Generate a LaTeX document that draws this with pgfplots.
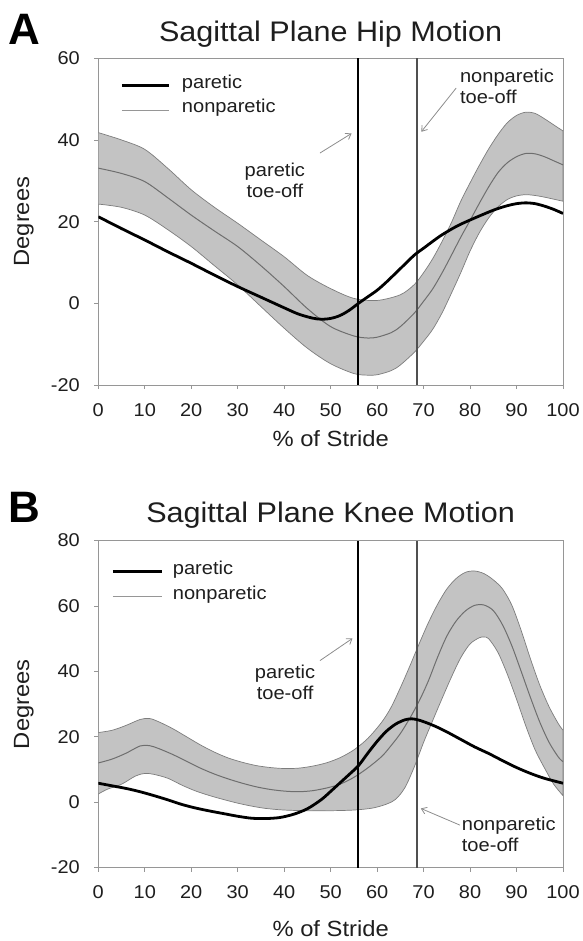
\documentclass[border=0pt]{standalone}
\usepackage{fontspec}
\setmainfont{Liberation Sans}[FakeStretch=1.08]
\newfontfamily\letterfont{Liberation Sans}
\usepackage{pgfplots}
\pgfplotsset{compat=1.18}
\usepackage{pgfplotstable}
\usepgfplotslibrary{fillbetween}
\usetikzlibrary{arrows.meta}

\definecolor{txt}{RGB}{30,30,30}
\definecolor{framec}{RGB}{150,150,150}
\definecolor{band}{RGB}{195,195,195}
\definecolor{bandedge}{RGB}{125,125,125}
\definecolor{meanc}{RGB}{110,110,110}
\definecolor{legnp}{RGB}{150,150,150}
\definecolor{npline}{RGB}{80,80,80}
\definecolor{arrowc}{RGB}{140,140,140}

% ---------- Panel A data ----------
\pgfplotstableread{
x y
0 21.2
5 18.3
10 15.5
15 12.6
20 9.8
25 6.9
30 4.1
35 1.5
40 -1.1
43 -2.6
46 -3.6
48 -3.9
50 -3.7
52 -3.0
54 -1.7
56 0.0
58 1.6
60 3.2
62 5.2
65 8.5
68 11.8
70 13.5
72 15.2
74 16.8
77 18.8
80 20.4
85 22.8
88 23.9
90 24.4
92 24.6
94 24.4
96 23.8
98 23.0
100 22.0
}\Apar

\pgfplotstableread{
x y
0 41.8
5 40.0
10 37.7
15 33.0
20 27.8
25 23.5
30 19.6
35 15.5
40 11.4
45 6.8
50 3.6
55 1.2
60 0.7
65 2.1
68 4.6
70 7.5
72 11.0
74 15.2
76 19.8
78 25.0
80 29.5
82 33.8
84 37.8
86 41.3
88 44.2
90 46.0
92 46.8
94 46.5
96 45.2
98 43.7
100 42.2
}\Aup

\pgfplotstableread{
x y
0 33.1
5 31.8
10 29.8
15 25.8
20 21.6
25 17.7
30 13.9
35 9.2
40 4.1
45 -1.3
50 -5.7
55 -8.0
58 -8.5
60 -8.3
63 -7.2
65 -5.7
68 -2.4
70 0.5
72 3.6
74 7.5
76 11.8
78 16.2
80 20.3
82 24.5
84 28.5
86 32.0
88 34.4
90 35.9
92 36.7
94 36.6
96 35.9
98 34.9
100 33.9
}\Amean

\pgfplotstableread{
x y
0 24.3
5 23.5
10 21.6
15 18.0
20 13.9
25 9.2
30 4.5
35 -0.8
40 -6.1
45 -11.0
50 -14.8
55 -17.2
58 -17.6
60 -17.5
63 -16.5
65 -15.1
68 -12.0
70 -9.3
72 -6.3
74 -2.3
76 2.5
78 7.5
80 12.8
82 17.3
84 20.9
86 23.6
88 25.4
90 26.3
92 26.6
94 26.4
96 26.0
98 25.5
100 25.0
}\Alo

% ---------- Panel B data ----------
\pgfplotstableread{
x y
0 5.8
3 5.0
6 4.2
9 3.2
12 2.0
15 0.7
18 -0.7
21 -1.8
24 -2.7
27 -3.5
30 -4.3
33 -4.9
36 -5.0
39 -4.7
42 -3.7
45 -2.0
48 0.8
50 3.3
52 5.9
54 8.5
56 11.2
58 15.0
60 18.6
62 21.7
64 23.9
66 25.2
67.5 25.5
69 25.1
71 24.1
73 22.9
75 21.5
78 19.2
81 16.9
84 14.9
87 12.7
90 10.6
93 8.8
96 7.3
100 5.8
}\Bpar

\pgfplotstableread{
x y
0 21.3
3 22.0
6 23.5
9 25.3
11 25.6
13 24.6
16 22.5
19 20.0
22 17.5
25 15.3
28 13.5
31 12.2
34 11.2
37 10.6
40 10.3
43 10.4
46 11.0
49 12.0
52 13.6
55 16.0
58 19.5
61 24.5
63 29.0
65 35.0
67 41.5
69 48.3
71 54.8
73 60.5
75 65.2
77 68.4
79 70.3
81 70.7
83 69.9
85 68.0
87 65.2
89 60.2
91 52.5
93 43.8
95 35.8
97 29.2
99 24.0
100 22.0
}\Bup

\pgfplotstableread{
x y
0 12.0
3 13.2
6 15.0
9 17.2
11 17.3
13 16.4
16 14.6
19 12.5
22 10.4
25 8.6
28 7.1
31 5.8
34 4.7
37 3.9
40 3.4
43 3.2
46 3.5
49 4.3
52 5.5
55 7.6
58 10.5
61 14.0
63 17.3
65 21.0
67 25.6
69 30.8
71 37.0
73 44.3
75 50.8
77 55.4
79 58.5
81 60.2
83 60.3
85 58.6
87 54.2
89 47.8
91 40.0
93 32.0
95 24.5
97 18.3
99 13.8
100 12.4
}\Bmean

\pgfplotstableread{
x y
0 2.5
2 4.0
5 5.5
8 8.0
10 8.8
12 8.5
15 7.3
18 5.2
21 3.4
24 2.0
27 0.8
30 -0.3
33 -1.2
36 -1.9
40 -2.4
45 -2.6
50 -2.6
55 -2.4
59 -1.8
62 -0.6
64 0.9
66 4.5
68 10.8
70 18.3
72 25.1
74 31.8
76 38.3
78 44.2
80 48.4
82 50.3
83 50.5
84 50.0
86 45.8
88 39.2
90 31.5
92 23.3
94 16.0
96 10.5
98 5.5
100 2.0
}\Blo

\tikzset{
  annot/.style={font=\fontsize{18.6}{21}\selectfont, text=txt, inner sep=0pt},
  legtext/.style={font=\fontsize{18.6}{20}\selectfont, text=txt, inner sep=0pt,
    anchor=west, text height=0.75em, text depth=0.25em},
  arr/.style={arrowc, line width=0.8pt, -{Straight Barb[length=5pt,width=7pt]}},
}

\pgfplotsset{
  common/.style={
    scale only axis, width=464.7pt, height=326.7pt,
    xmin=0, xmax=100, xtick={0,10,...,100},
    tick pos=left, tick align=outside, major tick length=4pt,
    axis line style={draw=framec, line width=0.8pt},
    every tick/.append style={draw=framec, line width=0.8pt},
    /pgf/number format/assume math mode=true,
    tick label style={font=\fontsize{18.5}{20}\selectfont, text=txt},
    xticklabel style={anchor=north, inner sep=0pt, yshift=-14pt},
    yticklabel style={anchor=east, inner sep=0pt, xshift=-14.3pt},
    label style={font=\fontsize{22}{24}\selectfont, text=txt},
    title style={font=\fontsize{28.3}{30}\selectfont, text=txt},
    clip mode=individual,
  },
}

\begin{document}
\begin{tikzpicture}

% ================= Panel A =================
\begin{axis}[common,
  at={(98.3pt,556pt)}, anchor=south west,
  ymin=-20, ymax=60, ytick={-20,0,20,40,60},
  title={Sagittal Plane Hip Motion},
  title style={at={(axis description cs:0.5,1.0315)}, anchor=base},
  xlabel={\% of Stride},
  xlabel style={at={(axis description cs:0.5,-0.165)}, anchor=center},
  ylabel={Degrees},
  ylabel style={at={(axis description cs:-0.16,0.5)}, anchor=center},
]
\addplot[draw=none, name path=Aup, smooth, forget plot] table {\Aup};
\addplot[draw=none, name path=Alo, smooth, forget plot] table {\Alo};
\addplot[fill=band, draw=bandedge, line width=0.7pt, forget plot] fill between[of=Aup and Alo];
\addplot[meanc, line width=1pt, smooth, forget plot] table {\Amean};
\addplot[black, line width=2pt, forget plot] coordinates {(55.8,-20) (55.8,60)};
\addplot[npline, line width=1.2pt, forget plot] coordinates {(68.6,-20) (68.6,60)};
\addplot[black, line width=2.8pt, smooth, forget plot] table {\Apar};

% legend
\draw[black, line width=3pt] (rel axis cs:0.051,0.9152) -- (rel axis cs:0.152,0.9152);
\node[legtext] at (rel axis cs:0.1795,0.9152) {paretic};
\draw[legnp, line width=1pt] (rel axis cs:0.051,0.8417) -- (rel axis cs:0.152,0.8417);
\node[legtext] at (rel axis cs:0.1795,0.8417) {nonparetic};

\node[annot, align=center] at (axis cs:38,30) {paretic\\toe-off};
\draw[arr] (axis cs:47.7,36.8) -- (axis cs:54.5,41.6);
\node[annot, align=left, anchor=west] at (axis cs:77.8,53.2) {nonparetic\\toe-off};
\draw[arr] (axis cs:77,52.7) -- (axis cs:69.5,42);

\node[font=\letterfont\bfseries\fontsize{44}{44}\selectfont, text=black, inner sep=0pt]
  at (rel axis cs:-0.158,1.09) {A};
\end{axis}

% ================= Panel B =================
\begin{axis}[common,
  at={(98.3pt,73.4pt)}, anchor=south west,
  height=327pt,
  ymin=-20, ymax=80, ytick={-20,0,20,40,60,80},
  title={Sagittal Plane Knee Motion},
  title style={at={(axis description cs:0.5,1.0364)}, anchor=base},
  xlabel={\% of Stride},
  xlabel style={at={(axis description cs:0.5,-0.188)}, anchor=center},
  ylabel={Degrees},
  ylabel style={at={(axis description cs:-0.16,0.5)}, anchor=center},
]
\addplot[draw=none, name path=Bup, smooth, forget plot] table {\Bup};
\addplot[draw=none, name path=Blo, smooth, forget plot] table {\Blo};
\addplot[fill=band, draw=bandedge, line width=0.7pt, forget plot] fill between[of=Bup and Blo];
\addplot[meanc, line width=1pt, smooth, forget plot] table {\Bmean};
\addplot[black, line width=2pt, forget plot] coordinates {(55.8,-20) (55.8,80)};
\addplot[npline, line width=1.2pt, forget plot] coordinates {(68.6,-20) (68.6,80)};
\addplot[black, line width=2.8pt, smooth, forget plot] table {\Bpar};

% legend
\draw[black, line width=3pt] (rel axis cs:0.0316,0.905) -- (rel axis cs:0.136,0.905);
\node[legtext] at (rel axis cs:0.16,0.905) {paretic};
\draw[legnp, line width=1pt] (rel axis cs:0.0316,0.8284) -- (rel axis cs:0.136,0.8284);
\node[legtext] at (rel axis cs:0.16,0.8284) {nonparetic};

\node[annot, align=center] at (axis cs:40.2,36.5) {paretic\\toe-off};
\draw[arr] (axis cs:47.7,43.3) -- (axis cs:54.7,50.1);
\node[annot, align=left, anchor=west] at (axis cs:78.2,-9.75) {nonparetic\\toe-off};
\draw[arr] (axis cs:77.8,-7) -- (axis cs:69.4,-1.9);

\node[font=\letterfont\bfseries\fontsize{44}{44}\selectfont, text=black, inner sep=0pt]
  at (rel axis cs:-0.158,1.101) {B};
\end{axis}

\path (0pt,0pt) rectangle (582pt,941pt);
\end{tikzpicture}
\end{document}
